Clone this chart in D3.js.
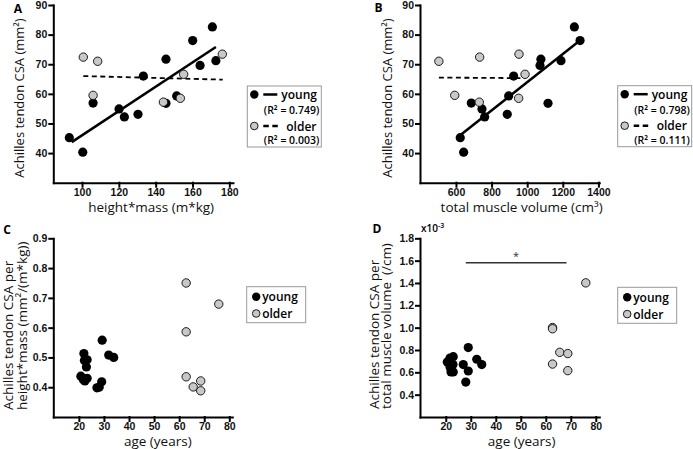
<!DOCTYPE html>
<html>
<head>
<meta charset="utf-8">
<script src="https://cdn.jsdelivr.net/npm/d3@7"></script>
<style>
  body { margin: 0; background: #fff; }
  svg { font-family: "Open Sans", sans-serif; }
  .tick text { font-size: 10.5px; font-weight: 600; fill: #111; }
  .axis path, .axis line { stroke: #000; stroke-width: 2; stroke-linecap: square; }
  .title { font-size: 13.5px; fill: #111; white-space: pre; }
  .title.short { font-size: 13px; }
  .letter { font-size: 12px; font-weight: 700; }
  .leg { font-size: 12px; font-weight: 600; }
  .legsmall { font-size: 10.5px; font-weight: 600; }
</style>
</head>
<body>
<div id="chart"></div>
<script>
// tendon CSA (mm^2), same subjects in A and B
let csaYoung = [45.2, 40.3, 56.9, 54.9, 52.2, 53.1, 66.0, 71.7, 56.8, 59.3, 78.0, 69.6, 82.6, 71.2];
let csaOlder = [72.4, 71.0, 59.5, 57.2, 58.5, 66.6, 73.4];
let hmYoung = [93.1, 100.4, 106.0, 120.1, 123.0, 130.4, 133.3, 145.6, 145.6, 151.4, 160.1, 164.1, 170.8, 172.7];
let hmOlder = [100.7, 108.5, 106.0, 144.2, 153.4, 155.2, 176.2];
let volYoung = [624, 643, 686, 746, 761, 888, 924, 1077, 1117, 896, 1297, 1072, 1265, 1190];
let volOlder = [733, 504, 593, 731, 952, 988, 954];

// regression lines (end points)
let fitYoungA = [[94.4, 43.7], [172.7, 75.8]];
let fitOlderA = [[100.7, 66.0], [176.4, 64.8]];
let fitYoungB = [[613, 45.5], [1289, 77.7]];
let fitOlderB = [[504, 65.5], [988, 65.3]];
let r2A = ['0.749', '0.003'];
let r2B = ['0.798', '0.111'];

// C: CSA per height*mass vs age
let ageYoungC = [29.3, 31.9, 33.9, 22.0, 22.2, 23.3, 23.0, 20.8, 22.4, 23.3, 27.2, 28.1, 29.1, 21.8];
let ratioYoungC = [0.558, 0.508, 0.500, 0.513, 0.490, 0.492, 0.468, 0.437, 0.421, 0.430, 0.398, 0.400, 0.418, 0.425];
let ageOlderC = [62.8, 62.8, 62.8, 65.6, 68.6, 68.6, 75.8];
let ratioOlderC = [0.750, 0.586, 0.435, 0.401, 0.421, 0.388, 0.679];

// D: CSA per muscle volume (x10^-3 /cm) vs age
let ageYoungD = [20.6, 21.7, 23.0, 21.7, 22.9, 22.1, 23.0, 22.2, 27.0, 29.0, 29.0, 28.0, 32.4, 34.4];
let ratioYoungD = [0.692, 0.728, 0.740, 0.648, 0.670, 0.603, 0.603, 0.625, 0.669, 0.822, 0.612, 0.513, 0.717, 0.669];
let ageOlderD = [62.7, 62.7, 62.7, 65.6, 68.8, 68.8, 76.0];
let ratioOlderD = [1.001, 0.990, 0.674, 0.779, 0.768, 0.615, 1.401];
let sigBarD = [[28, 1.58], [68.3, 1.58]];

let ticksCSA = [40, 50, 60, 70, 80, 90];
let ticksHM = [100, 120, 140, 160, 180];
let ticksVol = [600, 800, 1000, 1200, 1400];
let ticksAge = [20, 30, 40, 50, 60, 70, 80];
let ticksC = [0.4, 0.5, 0.6, 0.7, 0.8, 0.9];
let ticksD = [0.4, 0.6, 0.8, 1.0, 1.2, 1.4, 1.6, 1.8];

let svg = d3.select('#chart')
  .append('svg')
    .attr('width', 693)
    .attr('height', 449)
;

function zip(a, b) {
  return a.map(function(d, i) { return [d, b[i]]; });
}

function panel(p) {
  let x = d3.scaleLinear().domain(p.xDomain).range([p.left, p.right]);
  let y = d3.scaleLinear().domain(p.yDomain).range([p.bottom, p.top]);
  let g = svg.append('g');

  g.append('g')
      .attr('class', 'axis')
      .attr('transform', 'translate(0,' + p.bottom + ')')
      .call(d3.axisBottom(x).tickValues(p.xTicks).tickSize(4).tickSizeOuter(0).tickPadding(1.5)
        .tickFormat(d3.format('d')))
  ;
  g.append('g')
      .attr('class', 'axis')
      .attr('transform', 'translate(' + p.left + ',0)')
      .call(d3.axisLeft(y).tickValues(p.yTicks).tickSize(4).tickSizeOuter(0).tickPadding(2)
        .tickFormat(p.yFormat || d3.format('d')))
  ;

  let line = d3.line().x(function(d) { return x(d[0]); }).y(function(d) { return y(d[1]); });
  if (p.fitYoung) {
    g.append('path').attr('d', line(p.fitYoung))
        .attr('stroke', '#000').attr('stroke-width', 2.5).attr('fill', 'none');
    g.append('path').attr('d', line(p.fitOlder))
        .attr('stroke', '#000').attr('stroke-width', 1.8).attr('fill', 'none')
        .attr('stroke-dasharray', '5,3.5');
  }
  if (p.bar) {
    g.append('path').attr('d', line(p.bar))
        .attr('stroke', '#333').attr('stroke-width', 1.5).attr('fill', 'none');
    g.append('text')
        .attr('x', x(d3.mean(p.bar, function(d) { return d[0]; })))
        .attr('y', y(p.bar[0][1]) - 3)
        .attr('text-anchor', 'middle')
        .attr('font-size', 11)
        .attr('fill', '#333')
        .text('*');
  }

  g.selectAll('.young').data(p.young).enter()
    .append('circle')
      .attr('class', 'young')
      .attr('cx', function(d) { return x(d[0]); })
      .attr('cy', function(d) { return y(d[1]); })
      .attr('r', 4.6)
      .attr('fill', '#000')
  ;
  g.selectAll('.older').data(p.older).enter()
    .append('circle')
      .attr('class', 'older')
      .attr('cx', function(d) { return x(d[0]); })
      .attr('cy', function(d) { return y(d[1]); })
      .attr('r', 4.2)
      .attr('fill', '#c8c8c8')
      .attr('stroke', '#1a1a1a')
      .attr('stroke-width', 1)
  ;

  g.append('text').attr('class', 'letter')
      .attr('x', p.letterX).attr('y', p.letterY)
      .attr('text-anchor', 'middle').attr('dominant-baseline', 'central')
      .text(p.letter);

  g.append('text').attr('class', 'title')
      .attr('x', (p.left + p.right) / 2 + (p.xTitleShift || 0))
      .attr('y', p.bottom + 29)
      .attr('text-anchor', 'middle')
      .text(p.xTitle);

  p.yTitle.forEach(function(t, i) {
    let tx = p.yTitleX[i];
    g.append('text').attr('class', p.yTitle.length == 1 ? 'title short' : 'title')
        .attr('transform', 'translate(' + tx + ',' + p.yTitleY + ') rotate(-90)')
        .attr('text-anchor', p.yTitleAnchor)
        .attr('dominant-baseline', 'central')
        .text(t);
  });
  return g;
}

function legendFit(x0, y0, r2) {
  let g = svg.append('g').attr('transform', 'translate(' + x0 + ',' + y0 + ')');
  g.append('rect').attr('width', 74).attr('height', 61)
      .attr('fill', '#fff').attr('stroke', '#999').attr('stroke-width', 1);
  g.append('circle').attr('cx', 7).attr('cy', 8.5).attr('r', 4.2).attr('fill', '#000');
  g.append('line').attr('x1', 16).attr('x2', 30).attr('y1', 8.5).attr('y2', 8.5)
      .attr('stroke', '#000').attr('stroke-width', 2.5);
  g.append('text').attr('class', 'leg').attr('x', 34).attr('y', 8.5)
      .attr('dominant-baseline', 'central').text('young');
  g.append('text').attr('class', 'legsmall').attr('x', 16.5).attr('y', 24)
      .attr('dominant-baseline', 'central').text('(R² = ' + r2[0] + ')');
  g.append('circle').attr('cx', 7).attr('cy', 40).attr('r', 3.8)
      .attr('fill', '#c8c8c8').attr('stroke', '#1a1a1a').attr('stroke-width', 1);
  g.append('line').attr('x1', 16).attr('x2', 31).attr('y1', 40).attr('y2', 40)
      .attr('stroke', '#000').attr('stroke-width', 2.5).attr('stroke-dasharray', '5.5,3.5');
  g.append('text').attr('class', 'leg').attr('x', 39).attr('y', 40)
      .attr('dominant-baseline', 'central').text('older');
  g.append('text').attr('class', 'legsmall').attr('x', 16.5).attr('y', 54)
      .attr('dominant-baseline', 'central').text('(R² = ' + r2[1] + ')');
}

function legendDots(x0, y0) {
  let g = svg.append('g').attr('transform', 'translate(' + x0 + ',' + y0 + ')');
  g.append('rect').attr('width', 59).attr('height', 36)
      .attr('fill', '#fff').attr('stroke', '#999').attr('stroke-width', 1);
  g.append('circle').attr('cx', 9.5).attr('cy', 10).attr('r', 4.2).attr('fill', '#000');
  g.append('text').attr('class', 'leg').attr('x', 15.5).attr('y', 10)
      .attr('dominant-baseline', 'central').text('young');
  g.append('circle').attr('cx', 9.5).attr('cy', 26.8).attr('r', 3.8)
      .attr('fill', '#c8c8c8').attr('stroke', '#1a1a1a').attr('stroke-width', 1);
  g.append('text').attr('class', 'leg').attr('x', 15.5).attr('y', 26.8)
      .attr('dominant-baseline', 'central').text('older');
}

panel({
  letter: 'A', letterX: 18, letterY: 8.5,
  left: 53.3, right: 233, top: 5, bottom: 182.7,
  xDomain: [84.4, 182], yDomain: [30, 90], xTicks: ticksHM, yTicks: ticksCSA,
  young: zip(hmYoung, csaYoung), older: zip(hmOlder, csaOlder),
  fitYoung: fitYoungA, fitOlder: fitOlderA,
  xTitle: 'height*mass (m*kg)', xTitleShift: 8,
  yTitle: ['Achilles tendon CSA (mm²)'], yTitleX: [19], yTitleY: 98, yTitleAnchor: 'middle'
});
legendFit(247.3, 86, r2A);

panel({
  letter: 'B', letterX: 378.5, letterY: 7,
  left: 420, right: 599.3, top: 5, bottom: 182.7,
  xDomain: [398, 1405], yDomain: [30, 90], xTicks: ticksVol, yTicks: ticksCSA,
  young: zip(volYoung, csaYoung), older: zip(volOlder, csaOlder),
  fitYoung: fitYoungB, fitOlder: fitOlderB,
  xTitle: 'total muscle volume (cm³)', xTitleShift: 12,
  yTitle: ['Achilles tendon CSA (mm²)'], yTitleX: [386.5], yTitleY: 98, yTitleAnchor: 'middle'
});
legendFit(617.7, 85.7, r2B);

panel({
  letter: 'C', letterX: 7, letterY: 229,
  left: 53.3, right: 232.3, top: 238.3, bottom: 417,
  xDomain: [9.8, 81.2], yDomain: [0.3, 0.9], xTicks: ticksAge, yTicks: ticksC,
  yFormat: d3.format('.1f'),
  young: zip(ageYoungC, ratioYoungC), older: zip(ageOlderC, ratioOlderC),
  xTitle: 'age (years)', xTitleShift: 15,
  yTitle: ['Achilles tendon CSA per', 'height*mass (mm²/(m*kg))'],
  yTitleX: [8, 21.5], yTitleY: 410, yTitleAnchor: 'start'
});
legendDots(246.7, 286.7);

panel({
  letter: 'D', letterX: 377, letterY: 228,
  left: 420, right: 599.3, top: 238.3, bottom: 417,
  xDomain: [9.7, 81.4], yDomain: [0.2, 1.8], xTicks: ticksAge, yTicks: ticksD,
  yFormat: d3.format('.1f'),
  young: zip(ageYoungD, ratioYoungD), older: zip(ageOlderD, ratioOlderD),
  bar: sigBarD,
  xTitle: 'age (years)', xTitleShift: 12,
  yTitle: ['Achilles tendon CSA per', 'total muscle volume  (/cm)'],
  yTitleX: [374, 385.5], yTitleY: 409, yTitleAnchor: 'start'
});
legendDots(617.7, 287.3);

// x10^-3 multiplier above panel D axis
let mult = svg.append('text')
    .attr('x', 421).attr('y', 232)
    .attr('font-size', 10).attr('font-weight', 600)
    .text('x10');
mult.append('tspan').attr('dy', -4).attr('font-size', 7).text('-3');
</script>
</body>
</html>
